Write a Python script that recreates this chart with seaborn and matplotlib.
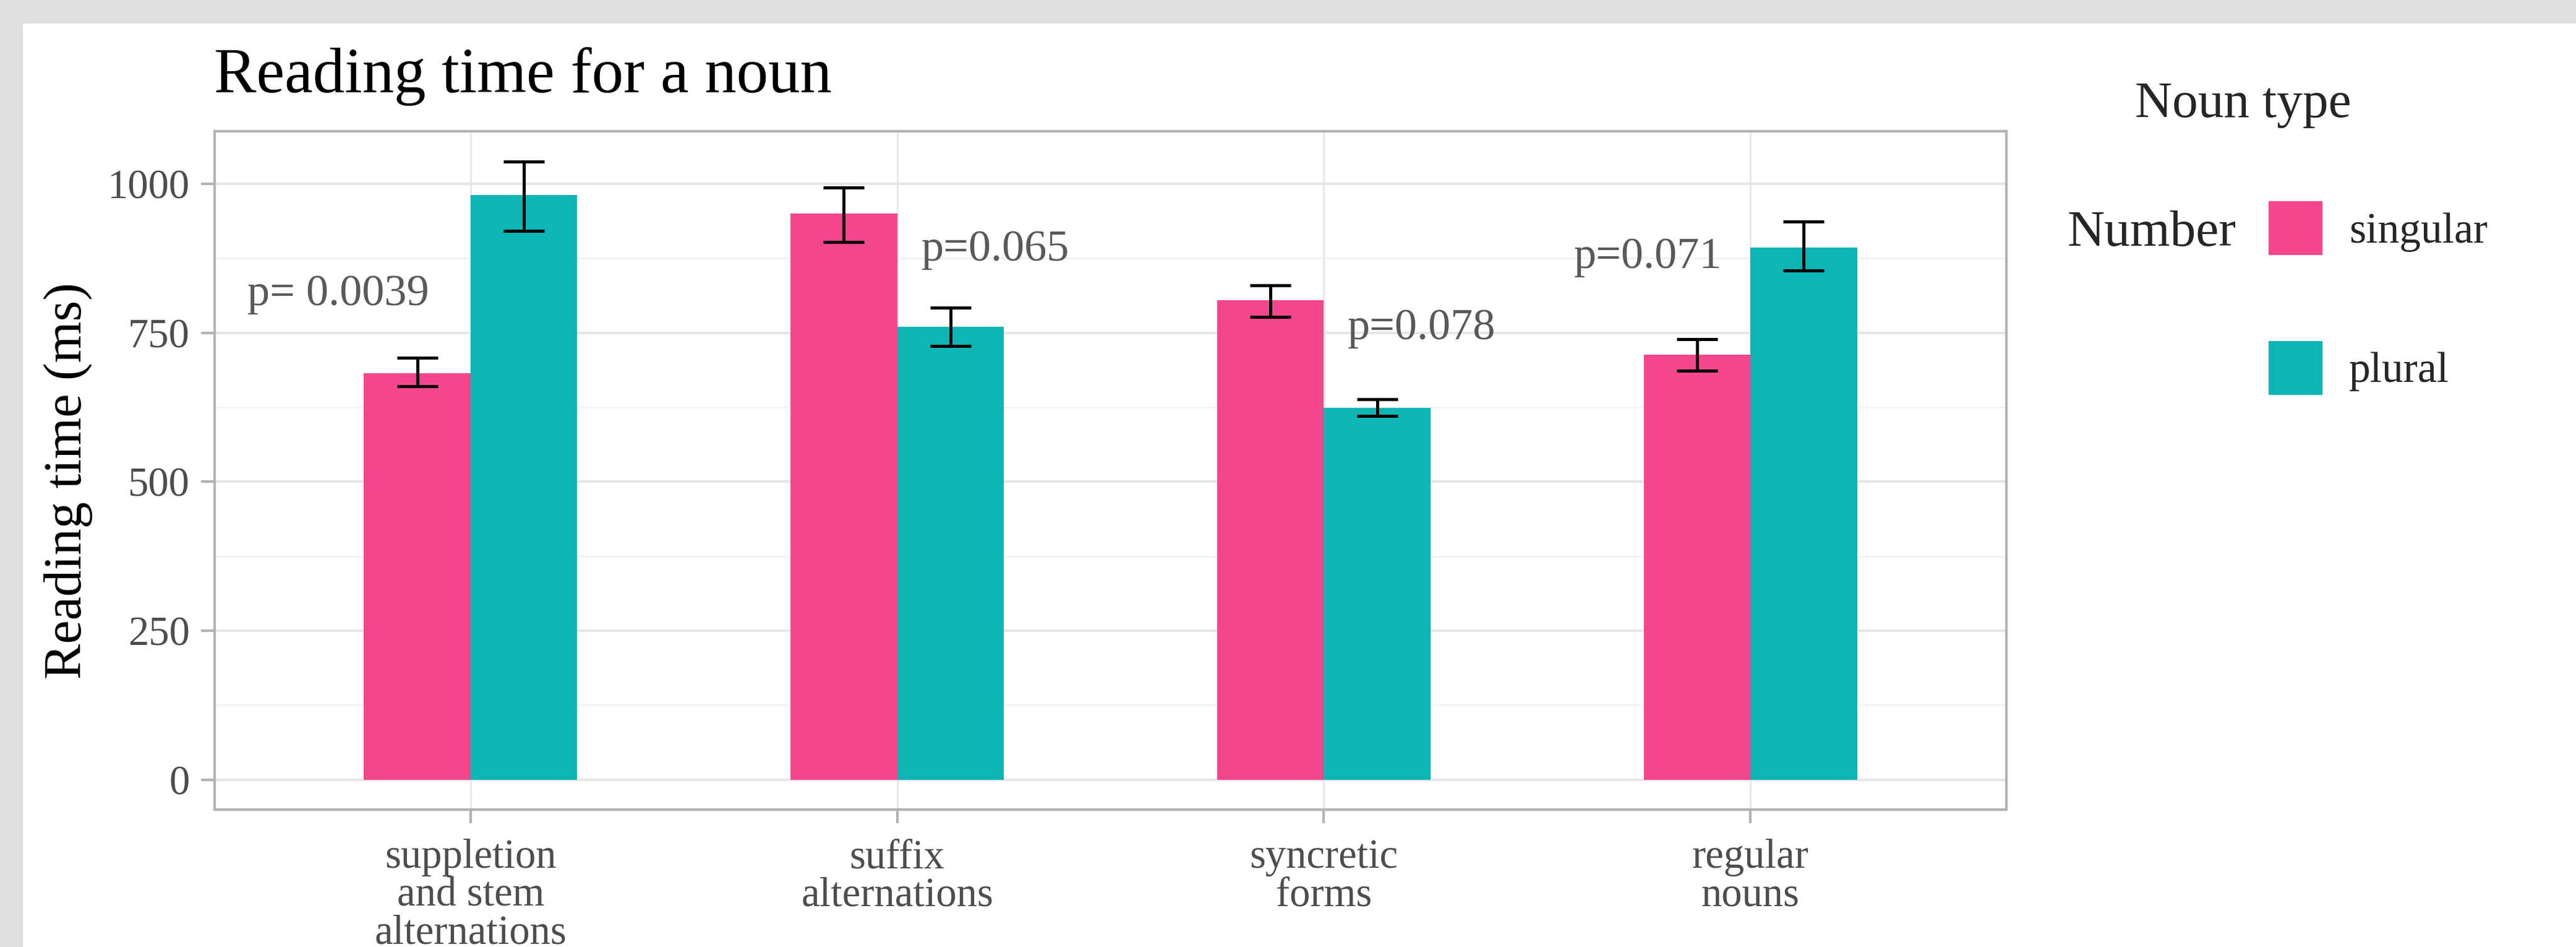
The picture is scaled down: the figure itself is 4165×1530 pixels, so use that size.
import matplotlib
matplotlib.use("Agg")
import matplotlib.pyplot as plt
from matplotlib.patches import Rectangle
from matplotlib.ticker import MultipleLocator
import seaborn as sns
import pandas as pd

# data
categories = ["suppletion\nand stem\nalternations", "suffix\nalternations",
              "syncretic\nforms", "regular\nnouns"]
numbers = ["singular", "plural"]
singular_rt = [682, 950, 805, 713]
singular_lo = [660, 902, 776, 686]
singular_hi = [708, 994, 829, 739]
plural_rt = [981, 760, 624, 893]
plural_lo = [921, 728, 610, 854]
plural_hi = [1037, 792, 638, 936]
p_labels = ["p= 0.0039", "p=0.065", "p=0.078", "p=0.071"]

pink = "#F4468C"
teal = "#0DB5B5"

df = pd.DataFrame({
    "type": categories * 2,
    "Number": ["singular"] * 4 + ["plural"] * 4,
    "rt": singular_rt + plural_rt,
})

sns.set_theme(style="white")
plt.rcParams["font.family"] = ["Liberation Serif", "DejaVu Serif"]

W, H = 4165, 1530
fig = plt.figure(figsize=(W / 100, H / 100), dpi=100, facecolor="#e0e0e0")
fig.patches.append(Rectangle((37 / W, 0), 1, 1 - 38 / H, transform=fig.transFigure,
                             facecolor="white", edgecolor="none", zorder=-10))
ax = fig.add_axes([347 / W, 1 - 1308 / H, (3244 - 347) / W, (1308 - 212) / H])
ax.set_zorder(1)

sns.barplot(data=df, x="type", y="rt", hue="Number", hue_order=numbers,
            palette=[pink, teal], width=0.5, gap=0, errorbar=None,
            saturation=1, linewidth=0, ax=ax)

# error bars at the bar centres seaborn chose
for cont, mean, lo, hi in zip(ax.containers,
                              [singular_rt, plural_rt],
                              [singular_lo, plural_lo],
                              [singular_hi, plural_hi]):
    xs = [b.get_x() + b.get_width() / 2 for b in cont]
    yerr = [[m - l for m, l in zip(mean, lo)], [h - m for m, h in zip(mean, hi)]]
    ax.errorbar(xs, mean, yerr=yerr, fmt="none", ecolor="black",
                elinewidth=3.6, capsize=24, capthick=3.6, zorder=4)

# p-values
p_pos = [(-0.31, 796), (1.23, 871), (2.23, 739), (2.76, 859)]
for (px, py), lab in zip(p_pos, p_labels):
    ax.text(px, py, lab, ha="center", va="baseline", fontsize=52, color="#595959")

ax.set_xlim(-0.6, 3.6)
ax.set_ylim(-50, 1088)
ax.set_yticks([0, 250, 500, 750, 1000])
ax.yaxis.set_minor_locator(MultipleLocator(125))
ax.set_axisbelow(True)
ax.yaxis.grid(True, which="major", color="#e6e6e6", linewidth=3)
ax.yaxis.grid(True, which="minor", color="#f1f1f1", linewidth=1.8)
ax.xaxis.grid(True, which="major", color="#e6e6e6", linewidth=2)
for s in ax.spines.values():
    s.set_visible(True)
    s.set_color("#b3b3b3")
    s.set_linewidth(3)

ax.tick_params(axis="both", which="major", length=16, width=3, color="#b3b3b3",
               labelcolor="#4d4d4d", labelsize=48)
ax.tick_params(axis="y", which="major", pad=13, left=True)
ax.tick_params(axis="x", which="major", pad=18, bottom=True)
ax.tick_params(which="minor", length=0)
for t in ax.get_xticklabels():
    t.set_linespacing(1.0)

ax.set_xlabel("")
ax.set_ylabel("Reading time (ms)", fontsize=62, color="black")
ax.yaxis.set_label_coords(-0.068, 0.485)

fig.text(346 / W, 1 - 149 / H, "Reading time for a noun", fontsize=74,
         ha="left", va="baseline", color="black")

# legend
handles, labels = ax.get_legend_handles_labels()
ax.get_legend().remove()
fig.legend(handles, labels, loc="upper left", bbox_to_anchor=(3668 / W, 1 - 325 / H),
           frameon=False, fontsize=50, handlelength=1.25, handleheight=1.56,
           labelspacing=1.99, handletextpad=0.62, borderaxespad=0, borderpad=0)
fig.text(3343 / W, 1 - 397 / H, "Number", fontsize=60, ha="left", va="baseline")
fig.text(3452 / W, 1 - 189 / H, "Noun type", fontsize=60, ha="left", va="baseline")

fig.savefig("out.png", dpi=100, facecolor=fig.get_facecolor())
